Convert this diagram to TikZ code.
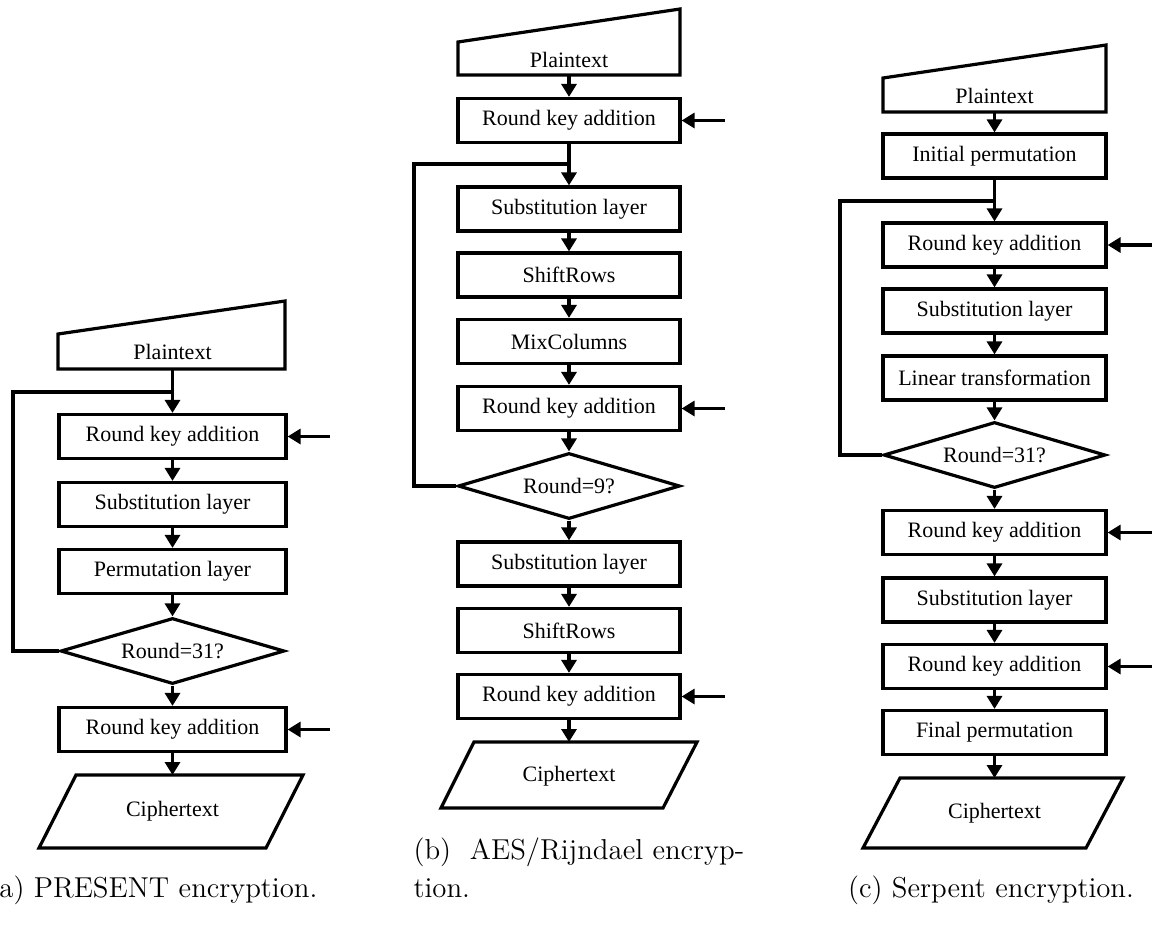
\documentclass[tikz,border=0pt]{standalone}
\usepackage{fontspec}
\newfontfamily\tnr{Liberation Serif}
\usetikzlibrary{arrows.meta,shapes.geometric}
\begin{document}
\begin{tikzpicture}[x=0.5pt,y=-0.5pt,line width=1.6pt,line join=miter,
  lbl/.style={inner sep=0pt,font=\tnr\fontsize{11}{13}\selectfont},
  box/.style={draw,rectangle,minimum height=22pt,inner sep=0pt,font=\tnr\fontsize{11}{13}\selectfont},
  boxa/.style={box,minimum width=113.5pt},
  boxb/.style={box,minimum width=111pt},
  boxc/.style={box,minimum width=111.5pt},
  dia/.style={draw,diamond,aspect=3.3,inner sep=0pt,minimum height=33pt,font=\tnr\fontsize{11}{13}\selectfont},
  arr/.style={-{Triangle[length=6.5pt,width=7.5pt]}},
  captext/.style={inner sep=0pt,font=\fontsize{14.4}{17}\selectfont}]
\useasboundingbox (0,0) rectangle (1155,927);

% ---------------- Column A: PRESENT ----------------
\draw (58,334) -- (285,301) -- (285,369) -- (58,369) -- cycle;
\node[lbl] (PTa) at (172.5,352) {Plaintext};
\coordinate (PTab) at (172.5,369);
\node[boxa] (RKa1) at (172.5,436.5) {Round key addition};
\node[boxa] (SLa)  at (172.5,504.5) {Substitution layer};
\node[boxa] (PLa)  at (172.5,571.5) {Permutation layer};
\node[dia,minimum width=112pt] (Da) at (172.5,651) {Round=31?};
\node[boxa] (RKa2) at (172.5,729.5) {Round key addition};
\draw (76,775) -- (303,775) -- (266,848) -- (39,848) -- cycle;
\node[lbl] (CTa) at (172.5,811) {Ciphertext};
\coordinate (CTat) at (172.5,775);
\coordinate (Ja) at (172.5,392);
\coordinate (La) at (13,392);
\coordinate (Ka1) at (330,436.5);
\coordinate (Ka2) at (330,729.5);
\draw[arr] (PTab) -- (RKa1.north);
\draw[arr] (RKa1.south) -- (SLa.north);
\draw[arr] (SLa.south) -- (PLa.north);
\draw[arr] (PLa.south) -- (Da.north);
\draw[arr] (Da.south) -- (RKa2.north);
\draw[arr] (RKa2.south) -- (CTat);
\draw (Da.west) -| (La) -- (Ja);
\draw[arr] (Ka1) -- (RKa1.east);
\draw[arr] (Ka2) -- (RKa2.east);

% ---------------- Column B: AES ----------------
\draw (458,42) -- (680,9) -- (680,75) -- (458,75) -- cycle;
\node[lbl] (PTb) at (569,60) {Plaintext};
\coordinate (PTbb) at (569,75);
\node[boxb] (RKb1) at (569,120.5) {Round key addition};
\node[boxb] (SLb1) at (569,209) {Substitution layer};
\node[boxb] (SRb1) at (569,275) {ShiftRows};
\node[boxb] (MCb)  at (569,341.5) {MixColumns};
\node[boxb] (RKb2) at (569,408.5) {Round key addition};
\node[dia,minimum width=111pt] (Db) at (569,486) {Round=9?};
\node[boxb] (SLb2) at (569,564) {Substitution layer};
\node[boxb] (SRb2) at (569,630.5) {ShiftRows};
\node[boxb] (RKb3) at (569,696.5) {Round key addition};
\draw (474,742) -- (697,742) -- (663,808) -- (441,808) -- cycle;
\node[lbl] (CTb) at (569,776) {Ciphertext};
\coordinate (CTbt) at (569,742);
\coordinate (Jb) at (569,164);
\coordinate (Lb) at (414,164);
\coordinate (Kb1) at (725,120.5);
\coordinate (Kb2) at (725,408.5);
\coordinate (Kb3) at (725,696.5);
\draw[arr] (PTbb) -- (RKb1.north);
\draw[arr] (RKb1.south) -- (SLb1.north);
\draw[arr] (SLb1.south) -- (SRb1.north);
\draw[arr] (SRb1.south) -- (MCb.north);
\draw[arr] (MCb.south) -- (RKb2.north);
\draw[arr] (RKb2.south) -- (Db.north);
\draw[arr] (Db.south) -- (SLb2.north);
\draw[arr] (SLb2.south) -- (SRb2.north);
\draw[arr] (SRb2.south) -- (RKb3.north);
\draw[arr] (RKb3.south) -- (CTbt);
\draw (Db.west) -| (Lb) -- (Jb);
\draw[arr] (Kb1) -- (RKb1.east);
\draw[arr] (Kb2) -- (RKb2.east);
\draw[arr] (Kb3) -- (RKb3.east);

% ---------------- Column C: Serpent ----------------
\draw (883,78) -- (1106,45) -- (1106,112) -- (883,112) -- cycle;
\node[lbl] (PTc) at (994.5,96) {Plaintext};
\coordinate (PTcb) at (994.5,112);
\node[boxc] (IPc)  at (994.5,156) {Initial permutation};
\node[boxc] (RKc1) at (994.5,245) {Round key addition};
\node[boxc] (SLc1) at (994.5,311) {Substitution layer};
\node[boxc] (LTc)  at (994.5,378) {Linear transformation};
\node[dia,minimum width=111pt] (Dc) at (994.5,455) {Round=31?};
\node[boxc] (RKc2) at (994.5,532.5) {Round key addition};
\node[boxc] (SLc2) at (994.5,600) {Substitution layer};
\node[boxc] (RKc3) at (994.5,666.5) {Round key addition};
\node[boxc] (FPc)  at (994.5,732.5) {Final permutation};
\draw (900,778) -- (1123,778) -- (1086,848) -- (863,848) -- cycle;
\node[lbl] (CTc) at (994.5,813) {Ciphertext};
\coordinate (CTct) at (994.5,778);
\coordinate (Jc) at (994.5,201);
\coordinate (Lc) at (840,201);
\coordinate (Kc1) at (1152,245);
\coordinate (Kc2) at (1152,532.5);
\coordinate (Kc3) at (1152,666.5);
\draw[arr] (PTcb) -- (IPc.north);
\draw[arr] (IPc.south) -- (RKc1.north);
\draw[arr] (RKc1.south) -- (SLc1.north);
\draw[arr] (SLc1.south) -- (LTc.north);
\draw[arr] (LTc.south) -- (Dc.north);
\draw[arr] (Dc.south) -- (RKc2.north);
\draw[arr] (RKc2.south) -- (SLc2.north);
\draw[arr] (SLc2.south) -- (RKc3.north);
\draw[arr] (RKc3.south) -- (FPc.north);
\draw[arr] (FPc.south) -- (CTct);
\draw (Dc.west) -| (Lc) -- (Jc);
\draw[arr] (Kc1) -- (RKc1.east);
\draw[arr] (Kc2) -- (RKc2.east);
\draw[arr] (Kc3) -- (RKc3.east);

% ---------------- Captions ----------------
\node[captext,anchor=base east] (capa) at (319,897) {(a) PRESENT encryption.};
\node[captext,anchor=base west] (capb1) at (412,859) {(b)\ \ AES/Rijndael\ encryp-};
\node[captext,anchor=base west] (capb2) at (412,897) {tion.};
\node[captext,anchor=base] (capc) at (991,897) {(c) Serpent encryption.};
\end{tikzpicture}
\end{document}
